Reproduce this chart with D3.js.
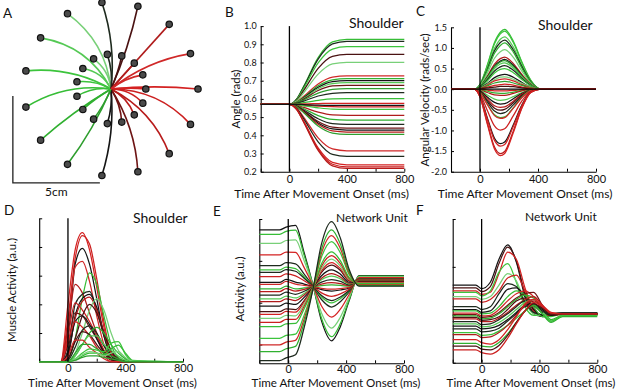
<!DOCTYPE html>
<html><head><meta charset="utf-8">
<script src="https://cdn.jsdelivr.net/npm/d3@7/dist/d3.min.js"></script>
<style>
body{margin:0;background:#fff;}
svg{display:block;}
text{font-family:Lato,"Open Sans",Arial,sans-serif;fill:#111;}
</style></head><body>
<svg width="617" height="390"></svg>
<script>
// ================= DATA =================
// Panel A: reach directions (deg, clockwise on screen from rightward), distances (cm), path bend (cm)
const reachAngles=[0,24,48,72,96,120,144,168,192,216,240,264,288,312,336];
const reachDistances=[5,2];
const bendOuter=[0.25,1.1,0.95,0.65,0.5,0.3,-0.25,-0.9,-0.8,-1.25,-1.1,-0.55,-0.25,0.0,0.65];
const bendInner=[0.1,0.44,0.38,0.26,0.2,0.12,-0.1,-0.36,-0.32,-0.5,-0.44,-0.22,-0.1,0.0,0.26];
const scaleBarCorner=[-5.64,-5.4];
const scaleBarLen=5;

const timeTicks=[-200,0,200,400,600,800];
const timeLabels=[0,400,800];

// Panel B: shoulder angle (rads)
const tAngle=[-200,0,50,100,200,300,400,800];
const angleTicks=[0.2,0.3,0.4,0.5,0.6,0.7,0.8,0.9,1.0];
const angleSeries=[
[.57,.57,.599,.670,.827,.913,.927,.927],
[.57,.57,.598,.667,.819,.902,.916,.916],
[.57,.57,.595,.659,.798,.874,.887,.887],
[.57,.57,.592,.647,.768,.834,.845,.845],
[.57,.57,.588,.635,.736,.792,.801,.801],
[.57,.57,.582,.614,.682,.720,.726,.726],
[.57,.57,.581,.609,.672,.705,.711,.711],
[.57,.57,.580,.606,.664,.695,.700,.700],
[.57,.57,.580,.603,.656,.684,.689,.689],
[.57,.57,.578,.599,.646,.671,.675,.675],
[.57,.57,.577,.594,.632,.653,.656,.656],
[.57,.57,.575,.588,.616,.631,.634,.634],
[.57,.57,.572,.579,.592,.600,.601,.601],
[.57,.57,.570,.572,.574,.576,.576,.576],
[.57,.57,.569,.566,.560,.557,.556,.556],
[.57,.57,.568,.562,.551,.544,.543,.543],
[.57,.57,.565,.553,.527,.512,.510,.510],
[.57,.57,.563,.546,.508,.487,.484,.484],
[.57,.57,.561,.539,.491,.464,.460,.460],
[.57,.57,.560,.534,.476,.445,.440,.440],
[.57,.57,.559,.531,.468,.435,.429,.429],
[.57,.57,.558,.527,.461,.424,.418,.418],
[.57,.57,.557,.524,.451,.412,.405,.405],
[.57,.57,.550,.499,.386,.325,.315,.315],
[.57,.57,.547,.490,.364,.295,.284,.284],
[.57,.57,.543,.477,.331,.251,.238,.238],
[.57,.57,.543,.474,.323,.241,.227,.227],
[.57,.57,.542,.471,.317,.232,.218,.218],
[.57,.57,.570,.569,.566,.565,.565,.565]];
const angleDirs=[7,11,8,12,10,14,6,4,9,3,5,11,7,0,1,8,13,6,11,3,4,2,5,14,11,0,1,2,4];

// Panel C: shoulder angular velocity (rads/sec)
const tVel=[-200,-40,0,50,100,140,170,230,290,350,420,800];
const velTicks=[-2,-1.5,-1,-0.5,0,0.5,1,1.5];
const velSeries=[
[0,0,.12,.58,1.13,1.38,1.45,1.16,.65,.22,0,0],
[0,0,.11,.56,1.10,1.34,1.41,1.13,.63,.21,0,0],
[0,0,.10,.51,.99,1.21,1.27,1.02,.57,.19,0,0],
[0,0,.10,.48,.93,1.13,1.19,.95,.54,.18,0,0],
[0,0,.09,.45,.87,1.06,1.12,.90,.50,.17,0,0],
[0,0,.08,.38,.75,.91,.96,.77,.43,.14,0,0],
[0,0,.06,.31,.61,.74,.78,.62,.35,.12,0,0],
[0,0,.06,.29,.56,.68,.72,.58,.32,.11,0,0],
[0,0,.06,.28,.54,.66,.69,.55,.31,.10,0,0],
[0,0,.05,.26,.50,.61,.64,.51,.29,.10,0,0],
[0,0,.05,.23,.44,.54,.57,.46,.26,.09,0,0],
[0,0,.04,.20,.39,.48,.50,.40,.23,.08,0,0],
[0,0,.03,.14,.28,.34,.36,.29,.16,.05,0,0],
[0,0,.02,.12,.23,.29,.30,.24,.14,.05,0,0],
[0,0,.02,.10,.20,.24,.25,.20,.11,.04,0,0],
[0,0,.02,.08,.15,.18,.19,.15,.09,.03,0,0],
[0,0,.01,.05,.09,.11,.12,.10,.05,.02,0,0],
[0,0,.01,.03,.05,.07,.07,.06,.03,.01,0,0],
[0,0,0,-.02,-.04,-.04,-.04,-.03,-.01,0,0,0],
[0,0,-.01,-.05,-.09,-.10,-.10,-.07,-.03,-.01,0,0],
[0,0,-.02,-.08,-.14,-.15,-.15,-.10,-.04,-.01,0,0],
[0,0,-.03,-.14,-.24,-.27,-.26,-.18,-.08,-.01,0,0],
[0,0,-.04,-.19,-.32,-.36,-.35,-.23,-.10,-.02,0,0],
[0,0,-.05,-.23,-.40,-.44,-.43,-.29,-.12,-.02,0,0],
[0,0,-.06,-.27,-.46,-.51,-.49,-.33,-.14,-.03,0,0],
[0,0,-.07,-.31,-.53,-.59,-.57,-.38,-.17,-.03,0,0],
[0,0,-.08,-.36,-.62,-.69,-.67,-.45,-.19,-.03,0,0],
[0,0,-.09,-.37,-.64,-.71,-.69,-.46,-.20,-.04,0,0],
[0,0,-.12,-.51,-.89,-.99,-.96,-.64,-.28,-.05,0,0],
[0,0,-.16,-.69,-1.19,-1.32,-1.28,-.86,-.37,-.07,0,0],
[0,0,-.17,-.72,-1.24,-1.38,-1.34,-.90,-.39,-.07,0,0],
[0,0,-.19,-.81,-1.40,-1.56,-1.51,-1.01,-.44,-.08,0,0],
[0,0,-.19,-.84,-1.45,-1.61,-1.56,-1.05,-.45,-.08,0,0]];
const velDirs=[7,8,9,11,6,10,13,4,5,9,11,8,4,10,14,5,0,12,1,6,13,9,4,2,12,11,7,14,1,4,0,2,0];

// Panel D: shoulder muscle activity (a.u.)
const tMus=[-200,-50,0,50,100,150,200,250,300,350,400,450,800];
const musTicks=[0,1,2,3,4,5];
const musSeries=[
[0,0,2.0,3.9,4.5,3.9,2.6,1.2,.25,.05,0,0,0],
[0,0,1.5,3.6,4.4,4.1,2.9,1.4,.3,.05,0,0,0],
[0,0,.8,3.4,3.95,3.4,2.2,.9,.2,0,0,0,0],
[0,0,1.2,3.3,3.5,2.8,1.6,.6,.1,0,0,0,0],
[0,0,.1,.8,2.2,3.1,2.7,1.6,.6,.15,.03,0,0],
[0,0,1.2,2.7,2.4,1.7,1.0,.4,.1,0,0,0,0],
[0,0,.4,2.0,2.35,2.45,1.8,.9,.3,.05,0,0,0],
[0,0,.2,1.6,2.2,2.35,1.9,1.0,.35,.08,0,0,0],
[0,0,.3,1.5,2.1,2.25,1.8,1.0,.3,.05,0,0,0],
[0,0,0,.3,1.0,1.8,2.2,1.8,1.0,.4,.1,0,0],
[0,0,.9,2.05,1.8,1.4,.9,.4,.1,0,0,0,0],
[0,0,.1,.8,1.6,2.0,1.7,1.0,.4,.1,0,0,0],
[0,0,.6,1.7,1.6,1.2,.8,.3,.05,0,0,0,0],
[0,0,.3,1.4,1.6,1.3,.8,.35,.1,0,0,0,0],
[0,0,.7,1.4,1.2,.9,.5,.2,0,0,0,0,0],
[0,0,.05,.5,1.1,1.25,1.0,.55,.2,.05,0,0,0],
[0,0,0,.2,.6,1.0,1.2,1.0,.6,.3,.1,0,0],
[0,0,.1,.7,1.05,.95,.6,.3,.1,0,0,0,0],
[0,0,0,.2,.6,.9,.9,.6,.4,.2,.05,0,0],
[0,0,.2,.75,.75,.5,.3,.1,0,0,0,0,0],
[0,0,0,.3,.6,.6,.45,.3,.2,.1,0,0,0],
[0,0,0,.1,.3,.45,.4,.35,.65,.7,.25,.03,0],
[0,0,0,.05,.2,.3,.3,.25,.45,.58,.3,.05,0],
[0,0,0,.1,.25,.35,.3,.2,.3,.35,.15,.02,0],
[0,0,0,.05,.15,.2,.2,.15,.1,.05,0,0,0]];
const musDirs=[0,1,4,14,7,13,11,4,2,10,1,12,3,4,0,11,6,12,9,14,5,8,7,10,5];

// Panel E: network unit activity (a.u.)
const tUnitE=[-200,-60,-15,50,110,170,230,300,360,420,490,560,800];
const unitETicks=[1.3,4.2,7.1,10];
const unitESeries=[
[9.24,9.24,9.44,9.56,7.66,5.46,2.94,1.56,2.54,4.31,6.07,6.07,6.07],
[8.94,8.94,9.14,9.23,7.48,5.45,3.12,1.84,2.75,4.39,6.04,6.04,6.04],
[8.31,8.31,8.51,8.55,7.11,5.42,3.49,2.44,3.19,4.55,5.99,5.99,5.99],
[7.51,7.51,7.71,7.69,6.63,5.39,3.97,3.20,3.75,4.75,5.93,5.93,5.93],
[6.77,6.77,6.97,6.89,6.18,5.36,4.42,3.90,4.27,4.93,5.87,5.87,5.87],
[6.47,6.47,6.67,6.56,6.00,5.35,4.60,4.19,4.48,5.01,5.84,5.84,5.84],
[6.30,6.30,6.50,6.38,5.90,5.34,4.70,4.35,4.60,5.05,5.83,5.83,5.83],
[6.00,6.00,6.20,6.06,5.72,5.33,4.88,4.64,4.81,5.13,5.81,5.81,5.81],
[5.61,5.61,5.81,5.63,5.49,5.31,5.11,5.01,5.08,5.22,5.77,5.77,5.77],
[5.47,5.47,5.67,5.48,5.40,5.31,5.20,5.14,5.18,5.26,5.76,5.76,5.76],
[5.15,5.15,5.35,5.16,5.22,5.29,5.39,5.43,5.40,5.34,5.74,5.74,5.74],
[4.97,4.97,5.17,5.00,5.12,5.29,5.49,5.59,5.52,5.38,5.72,5.72,5.72],
[4.73,4.73,4.93,4.78,4.99,5.28,5.63,5.80,5.68,5.44,5.70,5.70,5.70],
[4.46,4.46,4.66,4.53,4.84,5.27,5.79,6.04,5.85,5.50,5.68,5.68,5.68],
[4.27,4.27,4.47,4.35,4.73,5.26,5.90,6.21,5.98,5.55,5.67,5.67,5.67],
[3.97,3.97,4.17,4.08,4.57,5.25,6.07,6.47,6.18,5.62,5.64,5.64,5.64],
[3.58,3.58,3.78,3.72,4.35,5.23,6.30,6.81,6.44,5.71,5.61,5.61,5.61],
[3.39,3.39,3.59,3.54,4.25,5.22,6.41,6.98,6.56,5.76,5.60,5.60,5.60],
[3.12,3.12,3.32,3.29,4.10,5.21,6.56,7.22,6.74,5.82,5.58,5.58,5.58],
[2.84,2.84,3.04,3.04,3.95,5.20,6.73,7.46,6.92,5.89,5.55,5.55,5.55],
[2.54,2.54,2.74,2.76,3.78,5.19,6.90,7.73,7.12,5.96,5.53,5.53,5.53],
[1.73,1.73,1.93,2.02,3.34,5.16,7.37,8.44,7.66,6.16,5.46,5.46,5.46],
[1.27,1.27,1.47,1.59,3.08,5.14,7.64,8.85,7.96,6.27,5.43,5.43,5.43],
[0.81,0.81,1.01,1.17,2.83,5.12,7.90,9.25,8.26,6.38,5.39,5.39,5.39],
[0.18,0.18,0.38,0.59,2.48,5.10,8.27,9.81,8.68,6.53,5.34,5.34,5.34]];
const unitEDirs=[4,7,10,0,11,8,11,1,4,14,6,2,11,9,13,4,12,0,10,1,7,8,14,6,11];

// Panel F: network unit activity (a.u.)
const tUnitF=[-200,-40,0,60,120,180,240,300,360,420,480,560,800];
const unitFTicks=[0,3.33,6.67,10];
const unitFSeries=[
[5.4,5.4,5.15,5.6,7.2,8.2,7.0,4.6,3.4,3.2,3.35,3.45,3.45],
[5.2,5.2,4.95,5.3,6.9,8.05,7.1,4.8,3.5,3.25,3.35,3.4,3.4],
[5.0,5.0,4.75,4.9,6.2,7.7,7.2,5.2,3.6,3.3,3.35,3.4,3.4],
[4.9,4.9,4.65,5.0,6.3,6.9,5.6,3.9,3.3,3.3,3.4,3.4,3.4],
[4.6,4.6,4.4,4.6,5.4,6.2,5.7,4.2,3.4,3.3,3.4,3.4,3.4],
[4.45,4.45,4.2,4.4,5.0,5.9,6.1,5.0,3.8,3.3,3.35,3.4,3.4],
[3.9,3.9,3.7,3.9,4.8,5.5,5.3,4.2,3.5,3.35,3.4,3.45,3.45],
[3.7,3.7,3.5,3.6,4.3,5.1,5.2,4.6,3.7,3.3,3.4,3.45,3.45],
[3.6,3.6,3.4,3.45,3.9,4.6,5.0,4.7,3.9,3.2,3.2,3.4,3.4],
[3.45,3.45,3.25,3.3,3.7,4.3,4.8,5.0,4.6,3.8,3.3,3.35,3.35],
[3.35,3.35,3.15,3.2,3.5,4.0,4.5,4.8,4.9,4.0,3.4,3.35,3.35],
[3.25,3.25,3.05,3.1,3.4,3.9,4.4,4.7,4.5,3.7,3.0,3.3,3.3],
[3.15,3.15,2.95,3.0,3.2,3.7,4.3,4.5,4.2,3.6,3.3,3.4,3.4],
[3.05,3.05,2.85,2.85,3.1,3.5,4.0,4.4,4.6,4.0,3.4,3.4,3.4],
[2.85,2.85,2.65,2.7,3.0,3.4,3.9,4.3,4.0,3.5,3.4,3.45,3.45],
[2.7,2.7,2.5,2.55,2.8,3.2,3.7,4.2,4.4,3.6,2.9,3.3,3.3],
[2.55,2.55,2.35,2.4,2.6,3.0,3.5,4.0,4.1,3.7,3.3,3.4,3.4],
[2.35,2.35,2.15,2.2,2.4,2.9,3.4,3.9,4.0,3.6,3.35,3.4,3.4],
[2.1,2.1,1.9,1.95,2.2,2.6,3.1,3.6,4.0,3.4,2.9,3.3,3.3],
[1.95,1.95,1.75,1.8,2.1,2.6,3.3,4.0,4.3,3.9,3.4,3.4,3.4],
[1.6,1.6,1.4,1.3,1.6,2.3,3.2,4.1,4.4,4.0,3.5,3.4,3.4],
[1.35,1.35,1.15,1.1,1.4,2.0,2.8,3.6,4.0,3.4,2.8,3.2,3.2],
[1.15,1.15,.95,.9,1.2,1.9,2.8,3.6,4.1,3.8,3.4,3.4,3.4],
[.9,.9,.7,.6,.9,1.7,2.7,3.6,4.2,3.9,3.45,3.4,3.4]];
const unitFDirs=[4,12,0,8,10,1,11,4,7,14,3,6,12,2,11,9,4,11,8,13,0,6,12,1];

// ================= STYLE =================
const dirPalette=["#d42222","#cc2020","#b81b1b","#6e1414","#151515","#2e9e2e","#30b030","#36bd36",
                  "#3cc43c","#55c955","#78d078","#1e2a1e","#4a1212","#b01c1c","#d02828"];
const svg=d3.select("svg");

function txt(x,y,s,size,opts={}){
  const t=svg.append("text").attr("x",x).attr("y",y).text(s).style("font-size",size+"px");
  if(opts.anchor) t.attr("text-anchor",opts.anchor);
  if(opts.rot) t.attr("transform",`rotate(-90,${x},${y})`);
  return t;
}

// ================= PANEL A =================
const xA=d3.scaleLinear().domain([0,5]).range([111,198]);
const yA=d3.scaleLinear().domain([0,5]).range([89,2]);
const gA=svg.append("g");
const reaches=[];
reachDistances.forEach(dist=>reachAngles.forEach((a,i)=>{
  const th=a*Math.PI/180, b=(dist===5?bendOuter:bendInner)[i];
  const tx=dist*Math.cos(th), ty=-dist*Math.sin(th);
  reaches.push({i,tx,ty,cx:tx/2+b*Math.sin(th),cy:ty/2+b*Math.cos(th)});
}));
gA.selectAll("path.reach").data(reaches).join("path").attr("class","reach")
  .attr("d",r=>{const p=d3.path();p.moveTo(xA(0),yA(0));p.quadraticCurveTo(xA(r.cx),yA(r.cy),xA(r.tx),yA(r.ty));return p.toString();})
  .attr("fill","none").attr("stroke",r=>dirPalette[r.i]).attr("stroke-width",1.6);
gA.selectAll("circle").data(reaches).join("circle")
  .attr("cx",r=>xA(r.tx)).attr("cy",r=>yA(r.ty)).attr("r",3.2)
  .attr("fill","#4a4a4a").attr("stroke","#111").attr("stroke-width",1.2);
{
  const p=d3.path();
  p.moveTo(xA(scaleBarCorner[0]),yA(scaleBarCorner[1]+scaleBarLen));
  p.lineTo(xA(scaleBarCorner[0]),yA(scaleBarCorner[1]));
  p.lineTo(xA(scaleBarCorner[0]+scaleBarLen),yA(scaleBarCorner[1]));
  gA.append("path").attr("d",p.toString()).attr("fill","none").attr("stroke","#222").attr("stroke-width",1.3);
  txt(xA(scaleBarCorner[0]+scaleBarLen/2),yA(scaleBarCorner[1])+13.5,"5cm",12,{anchor:"middle"});
}

// ================= TIME PANELS =================
function drawPanel(c){
  const x=d3.scaleLinear().domain([-200,800]).range(c.xr);
  const y=d3.scaleLinear().domain(c.ydom).range(c.yr);
  const g=svg.append("g");
  const xa=g.append("g").attr("transform",`translate(0,${c.yr[0]})`)
    .call(d3.axisBottom(x).tickValues(timeTicks).tickSize(-3).tickSizeOuter(0)
      .tickFormat(d=>timeLabels.includes(d)?String(d):""));
  xa.selectAll("text").attr("y",c.labelOffset).attr("dy",null).style("font-size","11px");
  const ya=g.append("g").attr("transform",`translate(${c.xr[0]},0)`)
    .call(d3.axisLeft(y).tickValues(c.yTicks).tickSize(-3).tickSizeOuter(0).tickPadding(4)
      .tickFormat(c.yFmt||(()=>"")));
  ya.selectAll("text").style("font-size","9px");
  g.selectAll(".domain").attr("stroke","#000").attr("stroke-width",1.1);
  g.selectAll(".tick line").attr("stroke","#000");
  const line=d3.line().x((d,i)=>x(c.t[i])).y(d=>y(d)).curve(d3.curveMonotoneX);
  g.append("g").selectAll("path").data(c.series).join("path")
    .attr("d",line).attr("fill","none")
    .attr("stroke",(d,i)=>dirPalette[c.dirs[i]]).attr("stroke-width",1.25);
  if(c.zeroLine) g.append("line").attr("x1",x(-200)).attr("x2",x(800)).attr("y1",y(0)).attr("y2",y(0))
    .attr("stroke","#000").attr("stroke-width",1.2);
  g.append("line").attr("x1",x(0)).attr("x2",x(0)).attr("y1",c.yr[1]).attr("y2",c.yr[0])
    .attr("stroke","#000").attr("stroke-width",1.3);
}
const fmt1=d=>d.toFixed(1);

drawPanel({xr:[260.7,404.3],yr:[171.7,26.1],ydom:[0.2,1.0],t:tAngle,series:angleSeries,dirs:angleDirs,yTicks:angleTicks,yFmt:fmt1,labelOffset:11});
drawPanel({xr:[451,596],yr:[171.7,27.3],ydom:[-2,1.5],t:tVel,series:velSeries,dirs:velDirs,yTicks:velTicks,yFmt:fmt1,zeroLine:true,labelOffset:11});
drawPanel({xr:[39.2,183],yr:[361.7,218.3],ydom:[0,5],t:tMus,series:musSeries,dirs:musDirs,yTicks:musTicks,labelOffset:10.6});
drawPanel({xr:[259.3,404],yr:[363.3,219],ydom:[0,10],t:tUnitE,series:unitESeries,dirs:unitEDirs,yTicks:unitETicks,labelOffset:10});
drawPanel({xr:[452.7,597.3],yr:[362.7,219],ydom:[0,10],t:tUnitF,series:unitFSeries,dirs:unitFDirs,yTicks:unitFTicks,labelOffset:10.3});

// ================= TEXT =================
txt(3,18,"A",13.5); txt(225,17,"B",13.5); txt(416,15.5,"C",13.5);
txt(4,215,"D",13.5); txt(213,215.5,"E",13.5); txt(416,215,"F",13.5);
txt(349,28.3,"Shoulder",14); txt(538,29.5,"Shoulder",14); txt(133,222.7,"Shoulder",14);
txt(336,221.5,"Network Unit",12); txt(525,221,"Network Unit",12);
txt(240,99,"Angle (rads)",11.5,{anchor:"middle",rot:true});
txt(428.5,100,"Angular Velocity (rads/sec)",11.5,{anchor:"middle",rot:true});
txt(15.5,290,"Muscle Activity (a.u.)",11.5,{anchor:"middle",rot:true});
txt(244,289,"Activity (a.u.)",11.5,{anchor:"middle",rot:true});
const xTitle="Time After Movement Onset (ms)";
txt(321.5,197.5,xTitle,12,{anchor:"middle"});
txt(525,197.5,xTitle,12,{anchor:"middle"});
txt(112.5,387.2,xTitle,11.6,{anchor:"middle"});
txt(336,387.2,xTitle,11.6,{anchor:"middle"});
txt(531,387.2,xTitle,11.6,{anchor:"middle"});
</script>
</body></html>
